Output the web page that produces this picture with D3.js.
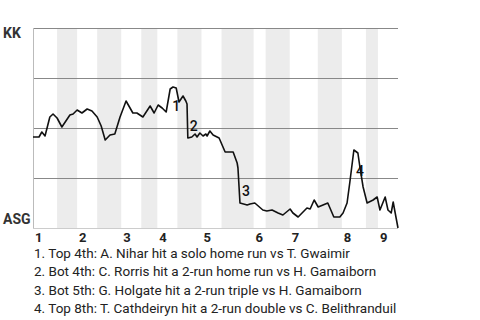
<!DOCTYPE html>
<html>
<head>
<meta charset="utf-8">
<script src="https://cdn.jsdelivr.net/npm/d3@7"></script>
<style>
  html, body { margin: 0; padding: 0; background: #fff; }
  svg { display: block; font-family: Roboto, "Noto Sans", sans-serif; }
</style>
</head>
<body>
<svg id="chart" width="480" height="320"></svg>
<script>
// ---- data ----
const teamTop = "KK";
const teamBottom = "ASG";
// plate-appearance index (x) and KK win probability (y)
const paIndex = [0,1.5,2.2,3.0,4.2,5.0,6.0,7.2,9.2,10.0,11.0,12.2,13.5,14.7,16.0,17.0,18.0,19.2,20.4,21.7,23.2,24.9,25.9,27.4,29.2,30.2,31.2,32.2,33.2,34.2,34.9,35.7,36.4,37.4,38.1,38.4,38.6,39.6,40.4,40.9,41.6,42.4,43.1,43.4,44.1,44.9,45.9,46.4,47.9,49.9,50.9,51.1,51.6,53.4,54.1,55.3,57.3,58.3,59.6,61.1,62.3,64.1,64.8,66.1,68.3,69.1,70.1,71.1,72.3,73.5,75.0,76.5,77.3,78.3,79.0,80.0,81.0,81.5,82.3,83.3,84.8,85.8,86.5,87.8,88.5,89.3,89.8,90.3,91.0];
const kkWinProb = [0.455,0.455,0.48,0.46,0.555,0.57,0.55,0.505,0.565,0.57,0.59,0.575,0.595,0.585,0.555,0.51,0.44,0.465,0.47,0.555,0.635,0.575,0.575,0.555,0.61,0.575,0.615,0.60,0.58,0.695,0.705,0.70,0.63,0.66,0.635,0.62,0.45,0.455,0.47,0.455,0.475,0.46,0.47,0.46,0.485,0.465,0.455,0.45,0.38,0.38,0.325,0.30,0.125,0.115,0.12,0.125,0.09,0.085,0.09,0.075,0.065,0.095,0.075,0.055,0.10,0.095,0.14,0.105,0.115,0.125,0.055,0.055,0.075,0.125,0.23,0.39,0.375,0.305,0.205,0.125,0.14,0.155,0.09,0.155,0.09,0.075,0.13,0.075,0.0];
// half-inning boundaries in plate appearances
const halfInningStarts = [0,6,11,16,22,27,31,36,42,47,55,58,64,71,77,83,86];
const totalPA = 91;
const inningLabels = ["1","2","3","4","5","6","7","8","9"];
const gridValues = [0.25, 0.5, 0.75, 1.0];
// key events: point index where the swing ends
const eventPoint = [29, 36, 52, 75];
const eventText = [
  "1. Top 4th: A. Nihar hit a solo home run vs T. Gwaimir",
  "2. Bot 4th: C. Rorris hit a 2-run home run vs H. Gamaiborn",
  "3. Bot 5th: G. Holgate hit a 2-run triple vs H. Gamaiborn",
  "4. Top 8th: T. Cathdeiryn hit a 2-run double vs C. Belithranduil"
];

// ---- layout ----
const svg = d3.select("#chart");
const L = 33, R = 398, T = 28, B = 228;
const x = d3.scaleLinear().domain([0, totalPA]).range([L, R]);
const y = d3.scaleLinear().domain([0, 1]).range([B, T]);

// shaded bottom halves
const bounds = halfInningStarts.concat([totalPA]);
const bottoms = [];
for (let i = 1; i < halfInningStarts.length; i += 2) bottoms.push([bounds[i], bounds[i + 1]]);
svg.append("g").selectAll("rect").data(bottoms).join("rect")
  .attr("x", d => x(d[0])).attr("width", d => x(d[1]) - x(d[0]))
  .attr("y", T).attr("height", B - T)
  .attr("fill", "#ececec");

// grid lines
svg.append("g").selectAll("line").data(gridValues).join("line")
  .attr("x1", L).attr("x2", R)
  .attr("y1", d => Math.round(y(d)) + 0.5).attr("y2", d => Math.round(y(d)) + 0.5)
  .attr("stroke", "#888").attr("stroke-width", 1);

// axes lines
svg.append("line").attr("x1", L + 0.5).attr("x2", L + 0.5).attr("y1", T).attr("y2", B + 1)
  .attr("stroke", "#bbb");
svg.append("line").attr("x1", L).attr("x2", R).attr("y1", B + 0.5).attr("y2", B + 0.5)
  .attr("stroke", "#ccc");

// inning labels
const inningStarts = halfInningStarts.filter((d, i) => i % 2 === 0);
svg.append("g").selectAll("text").data(inningLabels).join("text")
  .attr("x", (d, i) => x(inningStarts[i]) + 2).attr("y", 242)
  .attr("font-size", 13).attr("font-weight", "bold").attr("fill", "#222")
  .text(d => d);

// team labels
svg.append("text").attr("x", 3).attr("y", 38).attr("font-size", 14)
  .attr("font-weight", "bold").attr("fill", "#333").text(teamTop);
svg.append("text").attr("x", 3).attr("y", 224).attr("font-size", 14)
  .attr("font-weight", "bold").attr("fill", "#333").text(teamBottom);

// win probability line
const pts = paIndex.map((p, i) => [p, kkWinProb[i]]);
svg.append("path").datum(pts)
  .attr("fill", "none").attr("stroke", "#111").attr("stroke-width", 1.6)
  .attr("stroke-linejoin", "round")
  .attr("d", d3.line().x(d => x(d[0])).y(d => y(d[1])));

// event markers
svg.append("g").selectAll("text").data(eventPoint).join("text")
  .attr("x", d => x(paIndex[d]) + 2)
  .attr("y", d => y((kkWinProb[d] + kkWinProb[d - 1]) / 2) + 10)
  .attr("font-size", 14).attr("font-weight", 500).attr("fill", "#111")
  .text((d, i) => i + 1);

// event notes
svg.append("g").selectAll("text").data(eventText).join("text")
  .attr("x", 34).attr("y", (d, i) => 258 + i * 18.4)
  .attr("font-size", 13.5).attr("fill", "#222")
  .text(d => d);
</script>
</body>
</html>
